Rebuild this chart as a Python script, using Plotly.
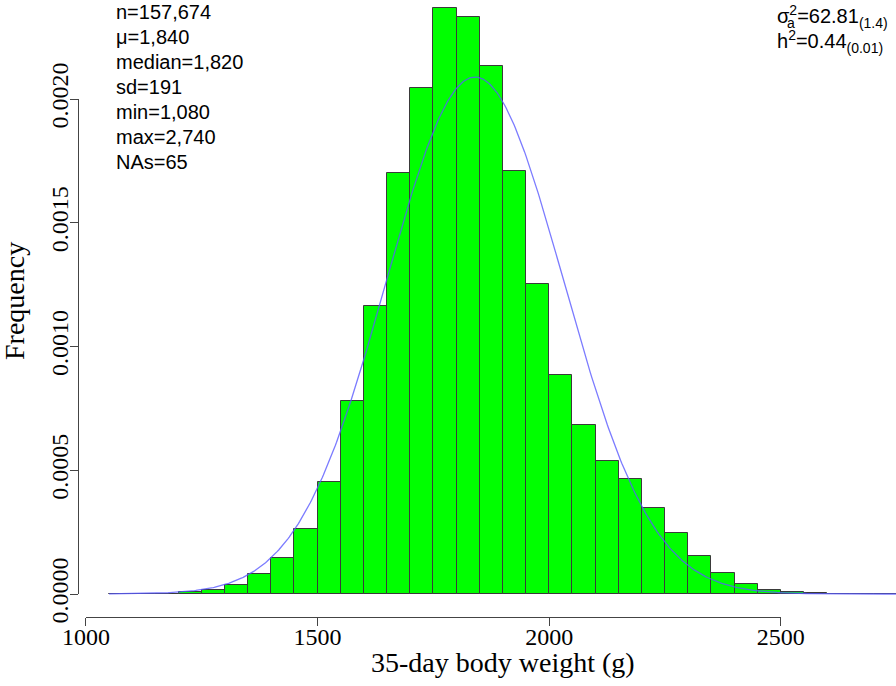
import numpy as np
import plotly.graph_objects as go

# ---- data ----
bin_left = [1050, 1100, 1150, 1200, 1250, 1300, 1350, 1400, 1450, 1500,
            1550, 1600, 1650, 1700, 1750, 1800, 1850, 1900, 1950, 2000,
            2050, 2100, 2150, 2200, 2250, 2300, 2350, 2400, 2450, 2500,
            2550, 2600, 2650, 2700]
density = [0.0000003, 0.000001, 0.000002, 0.0000066, 0.000015, 0.000036,
           0.000081, 0.000144, 0.000261, 0.000454, 0.000778, 0.001162,
           0.001700, 0.002046, 0.002366, 0.002333, 0.002133, 0.001710,
           0.001253, 0.000884, 0.000682, 0.000537, 0.000463, 0.000349,
           0.000248, 0.000154, 0.000086, 0.000039, 0.000018, 0.0000095,
           0.0000025, 0.000001, 0.0000005, 0.0000003]
bin_width = 50
mu, sd = 1840, 191
curve_from, curve_to = 1050, 2750
x_ticks = [1000, 1500, 2000, 2500]
y_ticks = [0.0, 0.0005, 0.0010, 0.0015, 0.0020]
y_ticklabels = ["0.0000", "0.0005", "0.0010", "0.0015", "0.0020"]
stats_lines = ["n=157,674", "\u03bc=1,840", "median=1,820", "sd=191",
               "min=1,080", "max=2,740", "NAs=65"]

# ---- geometry (pixels) ----
W, H = 896, 686
x0_px, ppu = 85.9, 0.4633          # pixel of x=1000, pixels per gram
y0_px, ppy = 594.0, 247500.0       # pixel of y=0, pixels per unit density
x_axis_px = 617.3
y_axis_px = 78.0

xr = [1000 - x0_px / ppu, 1000 + (W - x0_px) / ppu]
yr = [(y0_px - H) / ppy, y0_px / ppy]

centers = [b + bin_width / 2 for b in bin_left]
xs = np.linspace(curve_from, curve_to, 600)
ys = np.exp(-0.5 * ((xs - mu) / sd) ** 2) / (sd * np.sqrt(2 * np.pi))

fig = go.Figure()
fig.add_trace(go.Bar(x=centers, y=density, width=bin_width,
                     marker=dict(color="#00FF00",
                                 line=dict(color="#3a3a3a", width=1)),
                     showlegend=False, hoverinfo="skip"))
fig.add_trace(go.Scatter(x=xs, y=ys, mode="lines",
                         line=dict(color="rgba(90,90,255,0.8)", width=1.3),
                         showlegend=False, hoverinfo="skip"))
fig.add_trace(go.Scatter(x=[None], y=[None], xaxis="x2", yaxis="y2",
                         showlegend=False, hoverinfo="skip"))

serif = "Liberation Serif, Times New Roman, serif"
sans = "Liberation Sans, Arial, sans-serif"
tick_font = dict(family=serif, size=24, color="black")

fig.update_layout(
    width=W, height=H,
    margin=dict(l=0, r=0, t=0, b=0, autoexpand=False),
    paper_bgcolor="white", plot_bgcolor="rgba(0,0,0,0)",
    bargap=0,
    xaxis=dict(domain=[0, 1], range=xr, visible=False, automargin=False),
    yaxis=dict(domain=[0, 1], range=yr, visible=False, automargin=False),
    xaxis2=dict(domain=[x0_px / W, (x0_px + 1500 * ppu) / W],
                range=[1000, 2500], anchor="free",
                position=1 - x_axis_px / H, automargin=False,
                showline=True, linecolor="#444", linewidth=1,
                ticks="outside", ticklen=8, tickcolor="#444",
                ticklabelstandoff=-10,
                tickvals=x_ticks, ticktext=[str(v) for v in x_ticks],
                tickfont=tick_font, showgrid=False, zeroline=False),
    yaxis2=dict(domain=[1 - y0_px / H, 1 - (y0_px - 0.002 * ppy) / H],
                range=[0, 0.002], anchor="free",
                position=y_axis_px / W, automargin=False,
                showline=True, linecolor="#444", linewidth=1,
                ticks="outside", ticklen=8, tickcolor="#444",
                ticklabelstandoff=-8,
                tickvals=y_ticks, ticktext=y_ticklabels, tickangle=-90,
                tickfont=tick_font, showgrid=False, zeroline=False),
)

ann = []
ann.append(dict(text="Frequency", x=15 / W, y=1 - 301 / H, xref="paper",
                yref="paper", showarrow=False, textangle=-90,
                xanchor="center", yanchor="middle",
                font=dict(family=serif, size=28, color="black")))
ann.append(dict(text="35-day body weight (g)", x=503 / W, y=1 - 662 / H,
                xref="paper", yref="paper", showarrow=False,
                xanchor="center", yanchor="middle",
                font=dict(family=serif, size=28, color="black")))
for i, s in enumerate(stats_lines):
    ann.append(dict(text=s, x=114 / W, y=1 - (12 + 25 * i) / H,
                    xref="paper", yref="paper", xanchor="left",
                    yanchor="middle", showarrow=False,
                    font=dict(family=sans, size=20, color="black")))
ann.append(dict(text="\u03c3<sup>2</sup>=62.81<sub>(1.4)</sub>",
                x=775 / W, y=1 - 16 / H, xref="paper", yref="paper",
                xanchor="left", yanchor="middle", showarrow=False,
                font=dict(family=sans, size=20, color="black")))
ann.append(dict(text="a", x=785 / W, y=1 - 23 / H, xref="paper",
                yref="paper", xanchor="left", yanchor="middle",
                showarrow=False,
                font=dict(family=sans, size=14, color="black")))
ann.append(dict(text="h<sup>2</sup>=0.44<sub>(0.01)</sub>",
                x=775 / W, y=1 - 41 / H, xref="paper", yref="paper",
                xanchor="left", yanchor="middle", showarrow=False,
                font=dict(family=sans, size=20, color="black")))
fig.update_layout(annotations=ann)

fig.write_html("out.html", config={"displayModeBar": False},
               post_script="document.body.style.margin='0px';"
                           "document.body.style.overflow='hidden';")
